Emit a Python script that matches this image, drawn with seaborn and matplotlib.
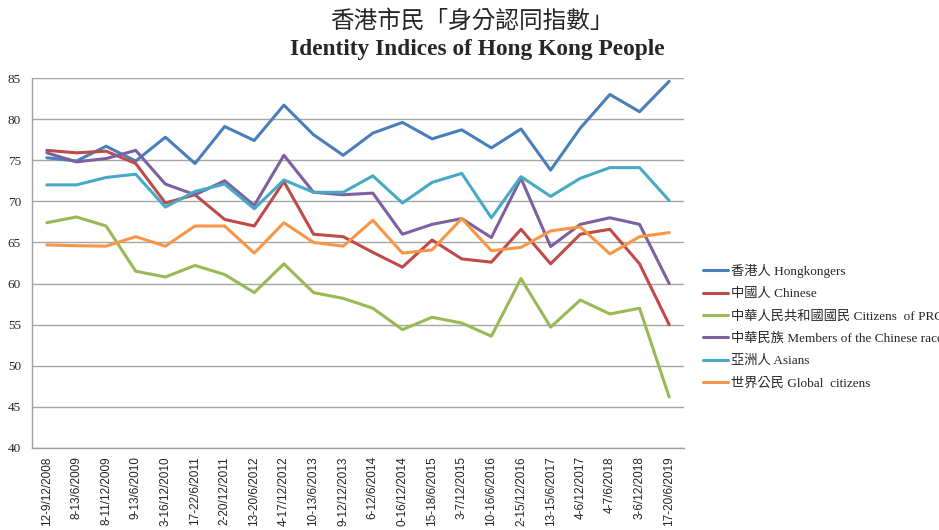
import numpy as np
import pandas as pd
import matplotlib
matplotlib.use("Agg")
import matplotlib.pyplot as plt
import seaborn as sns

# ---- data ----
survey_dates = [
    "12-9/12/2008", "8-13/6/2009", "8-11/12/2009", "9-13/6/2010",
    "3-16/12/2010", "17-22/6/2011", "2-20/12/2011", "13-20/6/2012",
    "4-17/12/2012", "10-13/6/2013", "9-12/12/2013", "6-12/6/2014",
    "0-16/12/2014", "15-18/6/2015", "3-7/12/2015", "10-16/6/2016",
    "2-15/12/2016", "13-15/6/2017", "4-6/12/2017", "4-7/6/2018",
    "3-6/12/2018", "17-20/6/2019",
]

hongkongers = [75.3, 74.9, 76.7, 74.9, 77.8, 74.6, 79.1, 77.4, 81.7, 78.1, 75.6,
               78.3, 79.6, 77.6, 78.7, 76.5, 78.8, 73.8, 78.9, 83.0, 80.9, 84.6]
chinese = [76.2, 75.9, 76.1, 74.6, 69.8, 70.8, 67.8, 67.0, 72.4, 66.0, 65.7,
           63.8, 62.0, 65.3, 63.0, 62.6, 66.6, 62.4, 66.0, 66.6, 62.4, 55.0]
prc_citizens = [67.4, 68.1, 67.0, 61.5, 60.8, 62.2, 61.1, 58.9, 62.4, 58.9, 58.2,
                57.0, 54.4, 55.9, 55.2, 53.6, 60.6, 54.7, 58.0, 56.3, 57.0, 46.2]
chinese_race = [75.9, 74.8, 75.2, 76.2, 72.1, 70.8, 72.5, 69.5, 75.6, 71.1, 70.8,
                71.0, 66.0, 67.2, 67.9, 65.6, 72.8, 64.5, 67.2, 68.0, 67.2, 60.0]
asians = [72.0, 72.0, 72.9, 73.3, 69.3, 71.2, 72.1, 69.1, 72.6, 71.1, 71.1,
          73.1, 69.8, 72.3, 73.4, 68.0, 73.0, 70.6, 72.8, 74.1, 74.1, 70.1]
global_citizens = [64.7, 64.6, 64.55, 65.7, 64.55, 67.0, 67.0, 63.7, 67.4, 65.0, 64.55,
                   67.7, 63.7, 64.1, 67.9, 64.0, 64.4, 66.4, 66.9, 63.6, 65.7, 66.2]

series_names = [
    "香港人 Hongkongers",
    "中國人 Chinese",
    "中華人民共和國國民 Citizens  of PRC",
    "中華民族 Members of the Chinese race",
    "亞洲人 Asians",
    "世界公民 Global  citizens",
]
series_values = [hongkongers, chinese, prc_citizens, chinese_race, asians, global_citizens]
colors = ["#4A7EBB", "#BE4B48", "#98B954", "#7D60A0", "#46AAC5", "#F79646"]

rows = []
for name, vals in zip(series_names, series_values):
    for i, (d, v) in enumerate(zip(survey_dates, vals)):
        rows.append({"idx": i, "date": d, "series": name, "value": v})
df = pd.DataFrame(rows)

# ---- plot ----
sns.set_style("white")
plt.rcParams["font.family"] = ["Liberation Serif", "Noto Sans CJK TC", "DejaVu Sans"]

fig = plt.figure(figsize=(9.39, 5.30), dpi=100)
ax = fig.add_axes([32 / 939, 1 - 448 / 530, (684 - 32) / 939, 370 / 530])

sns.lineplot(data=df, x="idx", y="value", hue="series", hue_order=series_names,
             palette=colors, linewidth=2.2, ax=ax, sort=False, legend=True)

ax.set_xlim(-0.5, len(survey_dates) - 0.5)
ax.set_ylim(40, 85)
ax.set_yticks(range(40, 86, 5))
ax.set_xlabel("")
ax.set_ylabel("")

ax.grid(axis="y", color="#a6a6a6", linewidth=1.0)
ax.set_axisbelow(True)
for s in ["top", "right"]:
    ax.spines[s].set_visible(False)
for s in ["left", "bottom"]:
    ax.spines[s].set_color("#a0a0a0")
    ax.spines[s].set_linewidth(1.0)

ax.set_xticks(range(len(survey_dates)))
ax.set_xticklabels(survey_dates, rotation=90, fontsize=8.5,
                   family=["Liberation Sans"], color="#222222")
ax.set_xticks(np.arange(-0.5, len(survey_dates), 1), minor=True)
ax.tick_params(axis="x", which="major", length=0, pad=6)
ax.tick_params(axis="x", which="minor", length=5, color="#a0a0a0", width=1)
ax.tick_params(axis="y", length=0, labelsize=9.5, pad=8)

leg = ax.legend(loc="upper left", bbox_to_anchor=(703 / 939, 1 - 264 / 530),
                bbox_transform=fig.transFigure, frameon=False, fontsize=9.5,
                handlelength=1.9, handletextpad=0.25, labelspacing=0.76,
                borderpad=0, borderaxespad=0)
for line in leg.get_lines():
    line.set_linewidth(2.2)

fig.text(472 / 939, 1 - 21 / 530, "香港市民「身分認同指數」", ha="center", va="center",
         fontsize=17, family=["Noto Sans CJK TC"])
fig.text(477 / 939, 1 - 50 / 530, "Identity Indices of Hong Kong People",
         ha="center", va="center", fontsize=16.8, fontweight="bold",
         family=["Liberation Serif"])

fig.savefig("out.png", dpi=100)
